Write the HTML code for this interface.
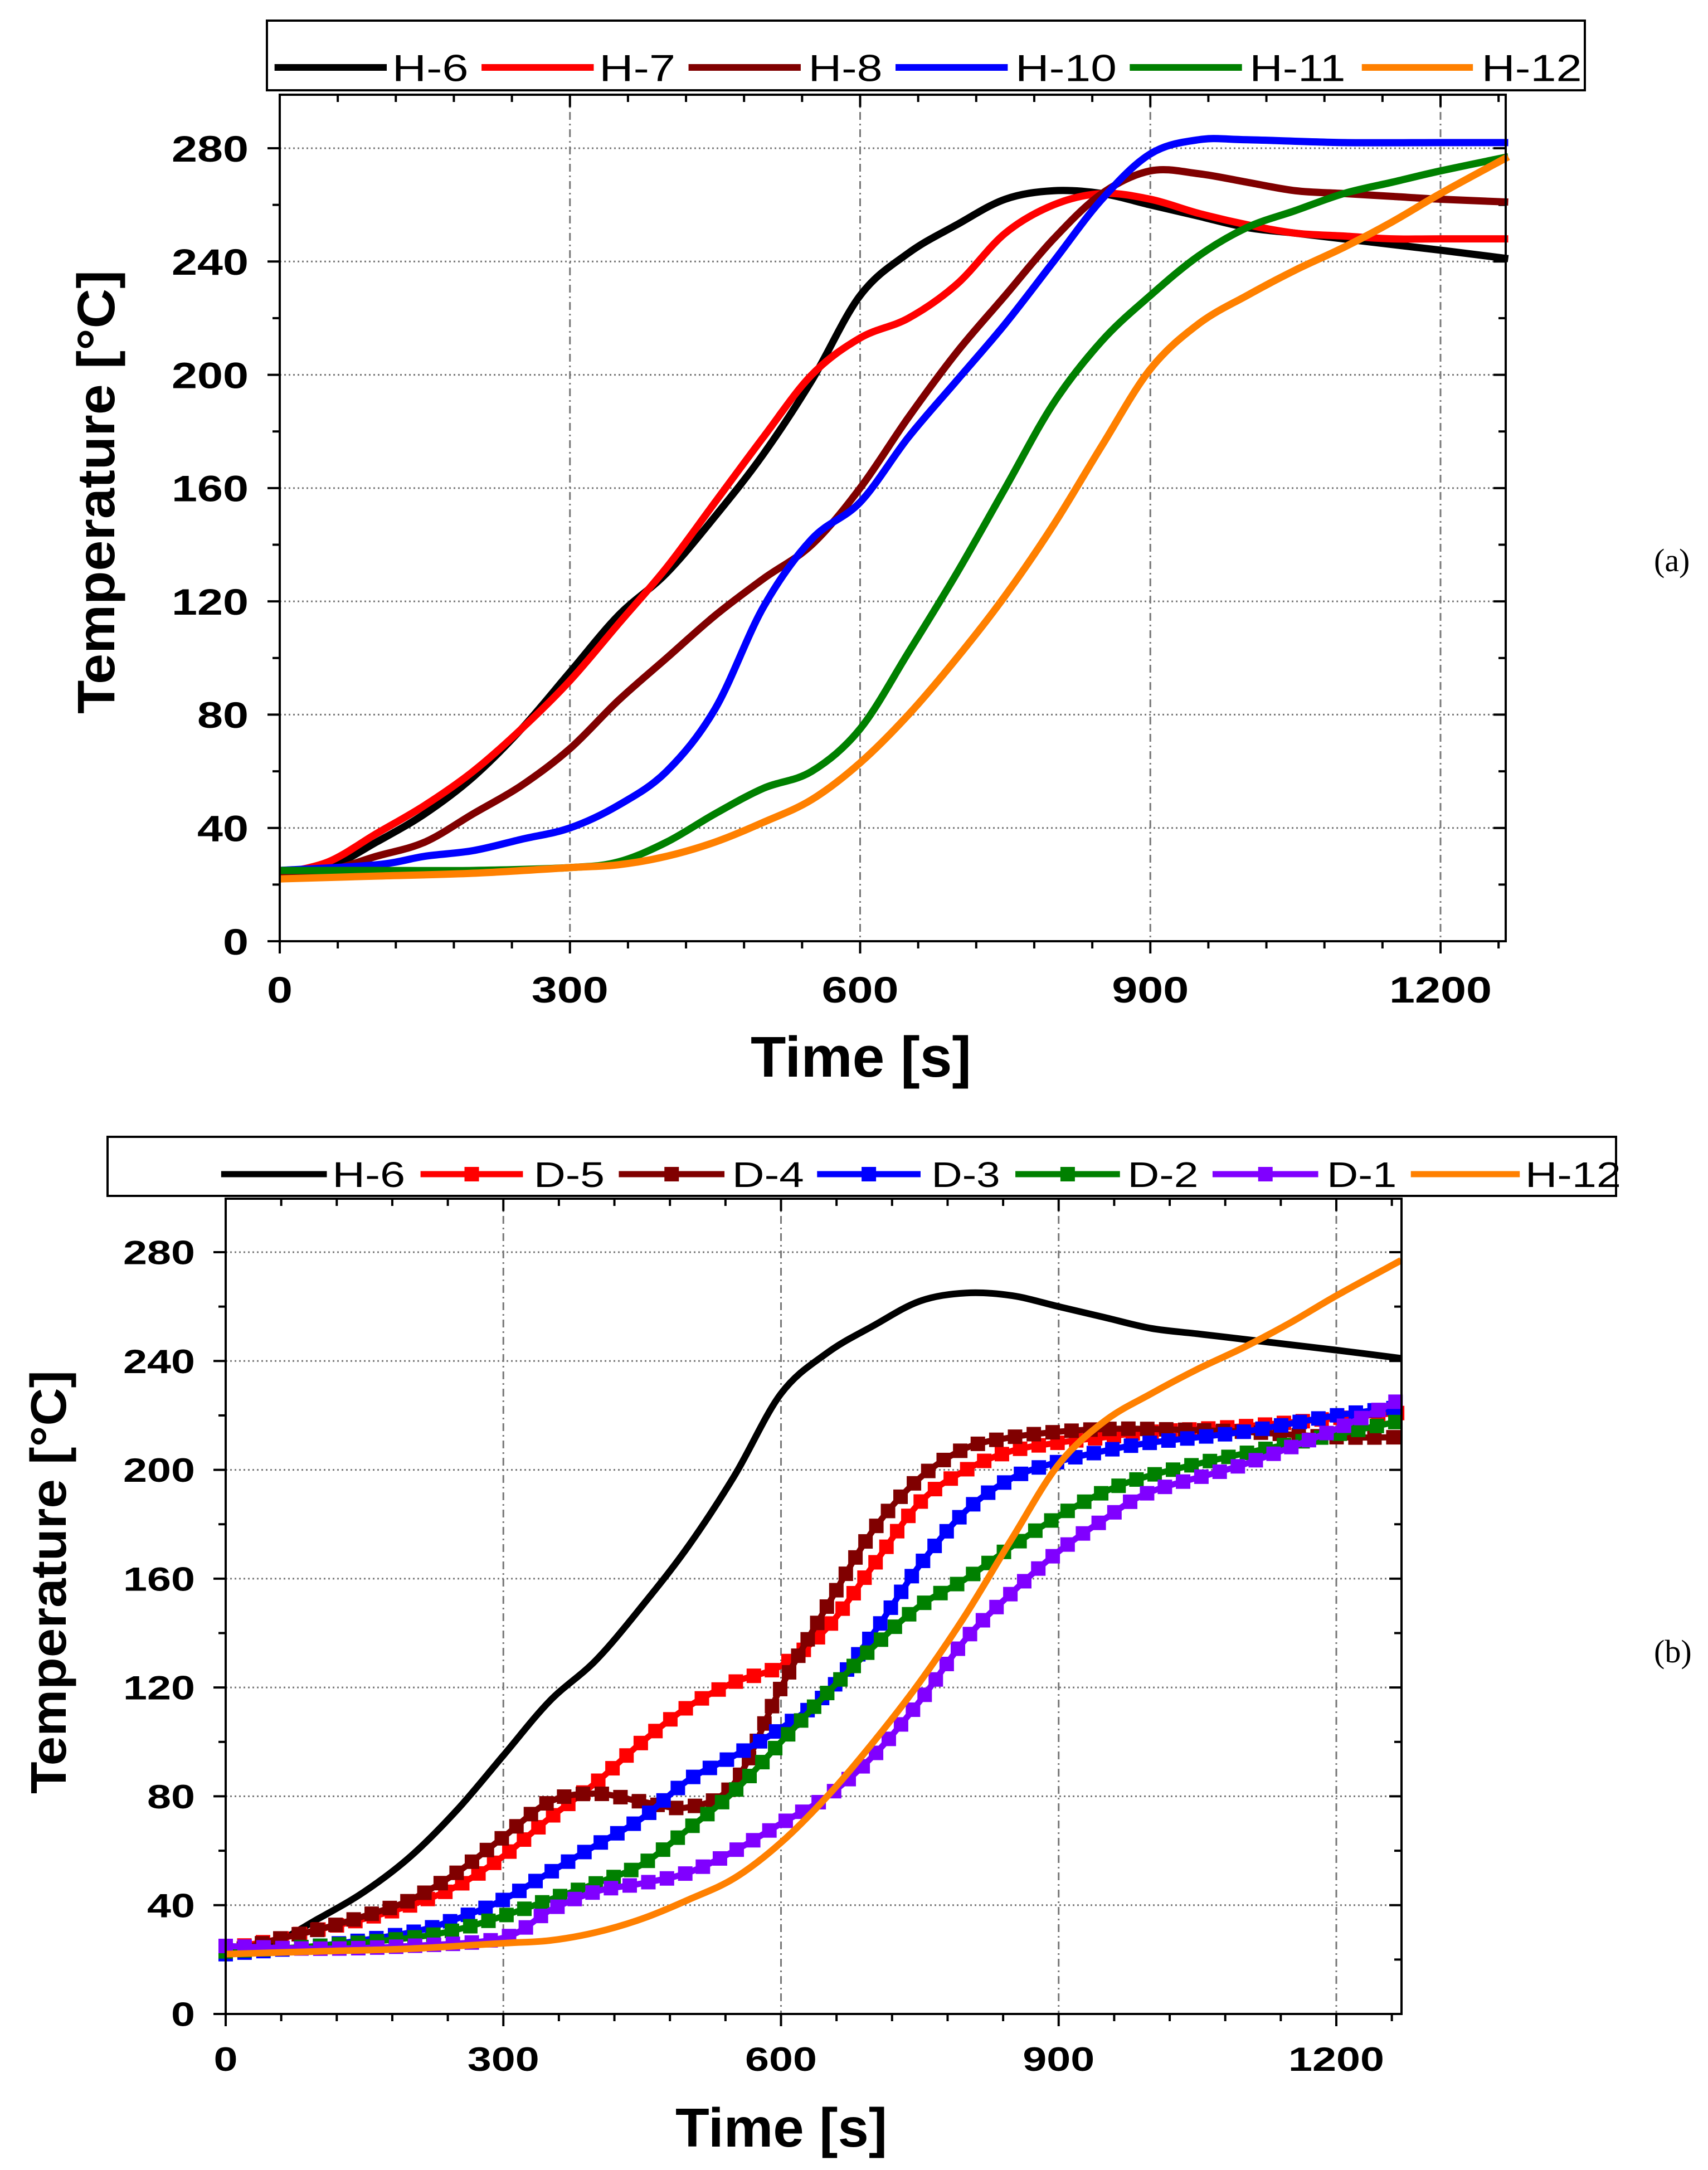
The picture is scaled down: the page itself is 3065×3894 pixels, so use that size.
<!DOCTYPE html>
<html><head><meta charset="utf-8"><style>
html,body{margin:0;padding:0;background:#fff;}
svg{display:block;}
</style></head><body>
<svg id="fig" width="3065" height="3894" viewBox="0 0 3065 3894" xmlns="http://www.w3.org/2000/svg" font-family="Liberation Sans, Arial, sans-serif"></svg>
<script>
// ---------- data: panel (a) ----------
const tA_h6 = [0,50,100,150,200,250,300,350,400,450,500,550,600,650,700,750,800,850,900,950,1000,1050,1100,1150,1200,1270];
const vA_h6 = [24,26,35,45,58,75,95,115,130,150,172,198,228,243,253,262,265,264,260,256,252,250,248,246,244,241];
const tA_h7 = [0,50,100,150,200,250,300,350,400,450,500,550,600,650,700,750,800,850,900,950,1000,1050,1100,1150,1200,1270];
const vA_h7 = [24,28,38,48,60,75,92,112,132,155,178,200,213,220,232,250,260,264,262,257,253,250,249,248,248,248];
const tA_h8 = [0,50,100,150,200,250,300,350,400,450,500,550,600,650,700,750,800,850,900,950,1000,1050,1100,1150,1200,1270];
const vA_h8 = [24,25,30,35,45,55,68,85,100,115,128,140,160,185,208,228,248,264,272,271,268,265,264,263,262,261];
const tA_h10 = [0,100,150,200,250,300,350,400,450,500,550,600,650,700,750,800,850,900,950,1000,1100,1200,1270];
const vA_h10 = [25,27,30,32,36,40,48,60,82,118,142,155,178,198,218,240,262,278,283,283,282,282,282];
const tA_h11 = [0,100,200,300,350,400,450,500,550,600,650,700,750,800,850,900,950,1000,1050,1100,1150,1200,1270];
const vA_h11 = [25,25,25,26,28,35,45,54,60,75,102,130,160,190,212,228,242,252,258,264,268,272,277];
const tA_h12 = [0,100,200,300,350,400,450,500,550,600,650,700,750,800,850,900,950,1000,1050,1100,1150,1200,1270];
const vA_h12 = [22,23,24,26,27,30,35,42,50,63,80,100,122,147,175,202,218,228,237,245,254,264,277];
// ---------- data: panel (b) ----------
const tB_d5 = [0,50,100,150,200,250,300,350,400,450,500,550,600,650,700,750,800,850,900,950,1000,1100,1200,1270];
const vB_d5 = [24,27,31,35,40,47,58,72,85,100,113,122,128,142,165,188,200,207,210,212,214,216,219,221];
const tB_d4 = [0,50,100,150,200,250,300,350,400,450,500,550,600,650,700,750,800,850,900,950,1000,1100,1200,1270];
const vB_d4 = [22,27,31,36,42,52,65,78,81,78,76,85,120,150,178,197,208,212,214,215,215,214,212,212];
const tB_d3 = [0,100,200,250,300,350,400,450,500,550,600,650,700,750,800,850,900,950,1000,1100,1200,1270];
const vB_d3 = [22,25,30,35,42,52,62,72,86,95,105,118,140,165,185,197,203,207,210,214,220,223];
const tB_d2 = [0,100,200,250,300,350,400,450,500,550,600,650,700,750,800,850,900,950,1000,1100,1200,1270];
const vB_d2 = [23,25,28,31,36,42,48,55,68,82,100,118,135,150,160,172,183,192,198,206,213,218];
const tB_d1 = [0,100,200,300,350,400,450,500,550,600,650,700,750,800,850,900,950,1000,1100,1200,1270];
const vB_d1 = [25,24,25,28,38,45,48,52,60,70,80,95,115,138,155,170,182,192,202,215,226];
const yTicks = [0,40,80,120,160,200,240,280];
const xTicks = [0,300,600,900,1200];
const legendA = ['H-6','H-7','H-8','H-10','H-11','H-12'];
const legendB = ['H-6','D-5','D-4','D-3','D-2','D-1','H-12'];

const NS='http://www.w3.org/2000/svg';
const svg=document.getElementById('fig');
function mk(tag,attrs,parent){const e=document.createElementNS(NS,tag);for(const k in attrs)e.setAttribute(k,attrs[k]);(parent||svg).appendChild(e);return e;}

function panel(cfg){
  const g=mk('g',{});
  
  
  const X=t=>cfg.x0+(t/1200)*(cfg.x1200-cfg.x0);
  const Y=v=>cfg.y0-(v/280)*(cfg.y0-cfg.y280);
  const L=cfg.x0,R=cfg.right,T=cfg.top,B=cfg.y0;
  yTicks.forEach(v=>{if(v===0)return;const l=mk('line',{x1:L,x2:R,y1:Y(v),y2:Y(v),stroke:'#777','stroke-width':3,'stroke-dasharray':'3,5'},g);
    });
  xTicks.forEach(t=>{if(t===0)return;const l=mk('line',{x1:X(t),x2:X(t),y1:T,y2:B,stroke:'#777','stroke-width':3,'stroke-dasharray':'14,7,3,7'},g);
    });
  for(let v=0;v<=290;v+=20){const y=Y(v);const len=(v%40===0)?22:13;
    mk('line',{x1:L-len,x2:L,y1:y,y2:y,stroke:'#000','stroke-width':4},g);
    mk('line',{x1:R,x2:R-len,y1:y,y2:y,stroke:'#000','stroke-width':4},g);}
  for(let t=0;t<=1270;t+=60){const x=X(t);const len=(t%300===0)?22:13;
    mk('line',{x1:x,x2:x,y1:B,y2:B+len,stroke:'#000','stroke-width':4},g);
    mk('line',{x1:x,x2:x,y1:T,y2:T+len,stroke:'#000','stroke-width':4},g);}
  cfg.series.forEach(s=>{
    const pts=s.t.map((t,i)=>[X(t),Y(s.v[i])]);
    let d='M'+pts[0][0]+','+pts[0][1];
    for(let i=0;i<pts.length-1;i++){const p0=pts[Math.max(0,i-1)],p1=pts[i],p2=pts[i+1],p3=pts[Math.min(pts.length-1,i+2)];
      const c1=[p1[0]+(p2[0]-p0[0])/6,p1[1]+(p2[1]-p0[1])/6],c2=[p2[0]-(p3[0]-p1[0])/6,p2[1]-(p3[1]-p1[1])/6];
      d+=' C'+c1[0]+','+c1[1]+' '+c2[0]+','+c2[1]+' '+p2[0]+','+p2[1];}
    const p=mk('path',{d:d,fill:'none',stroke:s.c,'stroke-width':s.m?cfg.lw:cfg.lwl,'stroke-linejoin':'round'},g);
    
    
    if(s.m){const len=p.getTotalLength();const step=cfg.mstep;
      for(let l=0;l<=len;l+=step){const q=p.getPointAtLength(l);
        const r=mk('rect',{x:q.x-cfg.ms/2,y:q.y-cfg.ms/2,width:cfg.ms,height:cfg.ms,fill:s.c},g);
        
        }}
  });
  const fr=mk('rect',{x:L,y:T,width:R-L,height:B-T,fill:'none',stroke:'#000','stroke-width':4},g);
  
  yTicks.forEach(v=>{const s=String(v);const e=mk('text',{x:cfg.ylabR,y:Y(v)+cfg.dfs*0.36,'font-size':cfg.dfs,'font-weight':'bold','text-anchor':'end',textLength:cfg.dw*s.length,lengthAdjust:'spacingAndGlyphs'},g);e.textContent=s;
    });
  xTicks.forEach(t=>{const s=String(t);const e=mk('text',{x:X(t),y:cfg.xlabY,'font-size':cfg.dfs,'font-weight':'bold','text-anchor':'middle',textLength:cfg.dw*s.length,lengthAdjust:'spacingAndGlyphs'},g);e.textContent=s;
    });
  const yt=mk('text',{x:0,y:0,'font-size':cfg.tfs,'font-weight':'bold','text-anchor':'middle',textLength:cfg.ytLen,lengthAdjust:'spacingAndGlyphs',transform:'translate('+cfg.ytX+','+cfg.ytY+') rotate(-90)'},g);
  yt.textContent='Temperature [°C]';
  
  const xt=mk('text',{x:cfg.xtX,y:cfg.xtY,'font-size':cfg.tfs+8,'font-weight':'bold','text-anchor':'middle',textLength:cfg.xtLen,lengthAdjust:'spacingAndGlyphs'},g);
  xt.textContent='Time [s]';
  
  const lg=mk('g',{},g);
  
  mk('rect',{x:cfg.lg.x,y:cfg.lg.y,width:cfg.lg.w,height:cfg.lg.h,fill:'#fff',stroke:'#000','stroke-width':4},lg);
  cfg.lg.items.forEach((it,i)=>{
    const s=cfg.series.find(z=>z.n===it);
    const e=mk('g',{},lg);
    
    
    mk('line',{x1:cfg.lg.lx[i][0],x2:cfg.lg.lx[i][1],y1:cfg.lg.cy,y2:cfg.lg.cy,stroke:s.c,'stroke-width':cfg.lg.lw},e);
    if(s.m)mk('rect',{x:(cfg.lg.lx[i][0]+cfg.lg.lx[i][1])/2-cfg.ms/2,y:cfg.lg.cy-cfg.ms/2,width:cfg.ms,height:cfg.ms,fill:s.c},e);
    const tx=mk('text',{x:cfg.lg.tx[i][0],y:cfg.lg.cy+cfg.lg.fs*0.36,'font-size':cfg.lg.fs,textLength:cfg.lg.tx[i][1]-cfg.lg.tx[i][0],lengthAdjust:'spacingAndGlyphs'},e);
    tx.textContent=it;
  });
  const lab=mk('text',{x:cfg.labX,y:cfg.labY,'font-size':58,'font-family':'Liberation Serif, serif'},g);
  lab.textContent=cfg.lab;
  
}
const f=1.955;
panel({name:'chart-a',x0:502,x1200:2585,right:2702,top:170,y0:1689,y280:266,lw:13,lwl:13,
  series:[{n:'H-6',c:'#000',t:tA_h6,v:vA_h6},{n:'H-7',c:'#ff0000',t:tA_h7,v:vA_h7},{n:'H-8',c:'#800000',t:tA_h8,v:vA_h8},
          {n:'H-10',c:'#0000ff',t:tA_h10,v:vA_h10},{n:'H-11',c:'#008000',t:tA_h11,v:vA_h11},{n:'H-12',c:'#ff8000',t:tA_h12,v:vA_h12}],
  ylabR:446,xlabY:1799,dfs:66,dw:46,tfs:95,ytLen:796,ytX:205,ytY:883,xtX:1545,xtY:1932,xtLen:396,
  lg:{x:479,y:37,w:2365,h:125,cy:121,lw:12,fs:68,items:legendA,
    lx:[[252,355],[442,545],[632,735],[822,925],[1037,1140],[1250,1352]].map(a=>a.map(v=>v*f)),
    tx:[[360,430],[550,620],[742,810],[932,1025],[1147,1235],[1360,1452]].map(a=>a.map(v=>v*f))},
  labX:2968,labY:1025,lab:'(a)'});
panel({name:'chart-b',x0:405,x1200:2398,right:2515,top:2151,y0:3614,y280:2247,lw:11,lwl:12,ms:26,mstep:34,
  series:[{n:'H-6',c:'#000',t:tA_h6,v:vA_h6},{n:'D-5',c:'#ff0000',t:tB_d5,v:vB_d5,m:1},{n:'D-4',c:'#800000',t:tB_d4,v:vB_d4,m:1},
          {n:'D-3',c:'#0000ff',t:tB_d3,v:vB_d3,m:1},{n:'D-2',c:'#008000',t:tB_d2,v:vB_d2,m:1},{n:'D-1',c:'#8000ff',t:tB_d1,v:vB_d1,m:1},
          {n:'H-12',c:'#ff8000',t:tA_h12,v:vA_h12}],
  ylabR:350,xlabY:3716,dfs:60,dw:43,tfs:90,ytLen:760,ytX:118,ytY:2839,xtX:1402,xtY:3852,xtLen:380,
  lg:{x:193,y:2040,w:2707,h:106,cy:2107,lw:11,fs:64,items:legendB,
    lx:[[203,300],[386,480],[568,665],[750,845],[932,1028],[1113,1210],[1295,1395]].map(a=>a.map(v=>v*f)),
    tx:[[305,372],[490,555],[672,738],[855,918],[1035,1100],[1218,1282],[1400,1488]].map(a=>a.map(v=>v*f))},
  labX:2968,labY:2983,lab:'(b)'});
</script>
</body></html>
